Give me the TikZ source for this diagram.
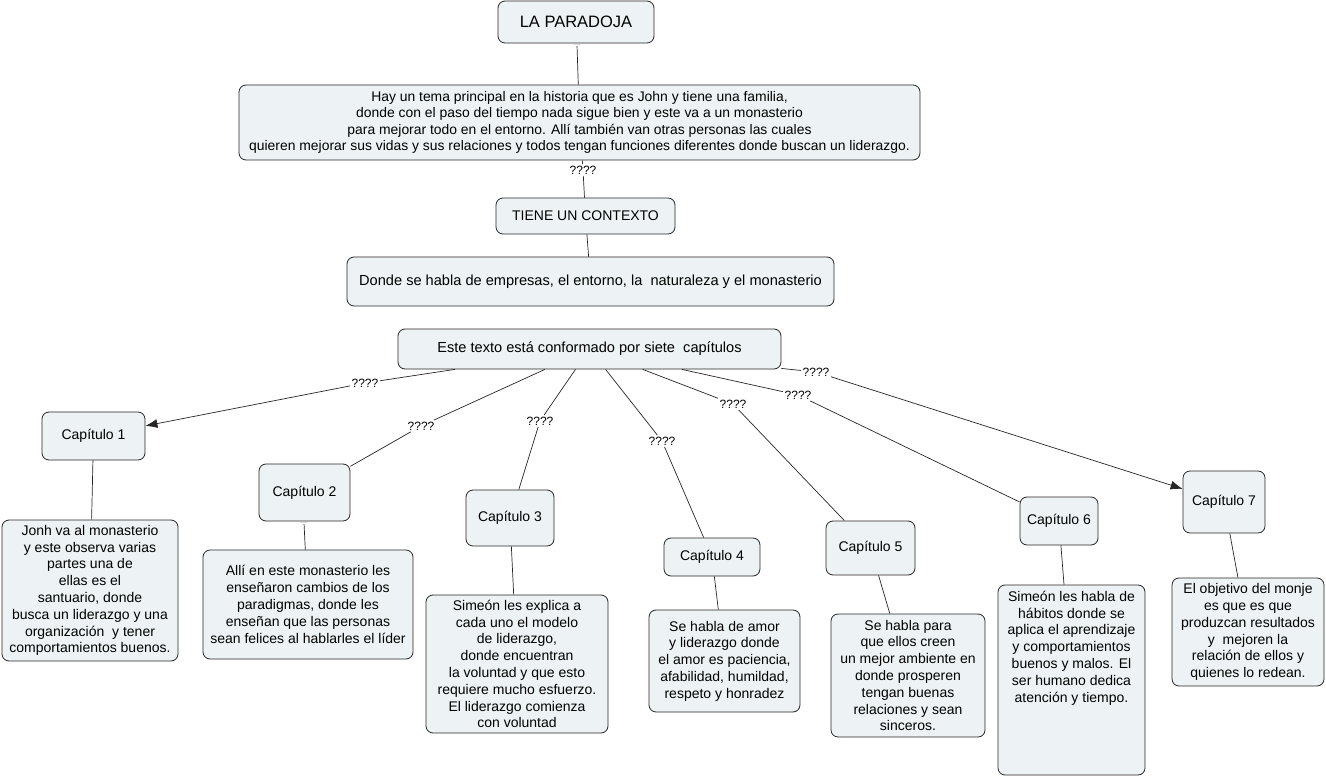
\documentclass[tikz,border=0pt]{standalone}
\usepackage{fontspec}
\setmainfont{Liberation Sans}
\usetikzlibrary{arrows.meta}
\definecolor{cajafondo}{HTML}{EDF3F5}
\definecolor{cajaborde}{HTML}{262626}
\begin{document}
\begin{tikzpicture}[x=1pt,y=-1pt]
        \tikzstyle{every node}+=[inner sep=0pt]
        \tikzstyle{caja}=[draw=cajaborde, fill=cajafondo, rounded corners=7pt, align=center, line width=0.8pt, font=\fontsize{14}{16.8}\selectfont]
        \tikzstyle{enlace}=[inner sep=1.5pt, font=\fontsize{12}{14}\selectfont]
        \tikzstyle{puntos}=[inner sep=0.5pt, text=gray, font=\fontsize{7}{7}\selectfont]
        \tikzstyle{linea}=[draw=cajaborde, line width=0.7pt]
        \tikzstyle{flecha}=[linea, -{Latex[length=12pt,width=9pt]}]
        \useasboundingbox (0,0) rectangle (1326,778);
        \node [caja, minimum width=156, minimum height=42, font=\fontsize{16.5}{18}\selectfont] (paradoja) at (576,22) {LA PARADOJA};
        \node [caja, minimum width=681, minimum height=75, font=\fontsize{13.9}{16.4}\selectfont] (historia) at (579.5,122.5) {Hay un tema principal en la historia que es John y tiene una familia,\\donde con el paso del tiempo nada sigue bien y este va a un monasterio\\para mejorar todo en el entorno. Allí también van otras personas las cuales\\quieren mejorar sus vidas y sus relaciones y todos tengan funciones diferentes donde buscan un liderazgo.};
        \node [caja, minimum width=179, minimum height=36] (contexto) at (585.5,216) {TIENE UN CONTEXTO};
        \node [caja, minimum width=487, minimum height=49, font=\fontsize{14.6}{17}\selectfont] (donde) at (590.5,281.5) {Donde se habla de empresas, el entorno, la~ naturaleza y el monasterio};
        \node [caja, minimum width=383, minimum height=40, font=\fontsize{14.6}{17}\selectfont] (siete) at (589.5,349) {Este texto está conformado por siete~ capítulos};
        \node [caja, minimum width=103, minimum height=48] (cap1) at (93.5,436) {Capítulo 1};
        \node [caja, minimum width=91, minimum height=57] (cap2) at (304.5,492.5) {Capítulo 2};
        \node [caja, minimum width=88, minimum height=56] (cap3) at (510,518) {Capítulo 3};
        \node [caja, minimum width=96, minimum height=38] (cap4) at (712,557) {Capítulo 4};
        \node [caja, minimum width=89, minimum height=54] (cap5) at (870.5,548) {Capítulo 5};
        \node [caja, minimum width=78, minimum height=48] (cap6) at (1059,521) {Capítulo 6};
        \node [caja, minimum width=82, minimum height=62] (cap7) at (1224,502) {Capítulo 7};
        \node [caja, minimum width=176, minimum height=141] (texto1) at (90,590.5) {Jonh va al monasterio\\y este observa varias\\partes una de\\ellas es el\\santuario, donde\\busca un liderazgo y una\\organización~ y tener\\comportamientos buenos.};
        \node [caja, minimum width=210, minimum height=109] (texto2) at (308,604.5) {Allí en este monasterio les\\enseñaron cambios de los\\paradigmas, donde les\\enseñan que las personas\\sean felices al hablarles el líder};
        \node [caja, minimum width=182, minimum height=138] (texto3) at (517,664) {Simeón les explica a\\cada uno el modelo\\de liderazgo,\\donde encuentran\\la voluntad y que esto\\requiere mucho esfuerzo.\\El liderazgo comienza\\con voluntad};
        \node [caja, minimum width=151, minimum height=102] (texto4) at (724.5,661) {Se habla de amor\\y liderazgo donde\\el amor es paciencia,\\afabilidad, humildad,\\respeto y honradez};
        \node [caja, minimum width=154, minimum height=123] (texto5) at (908,675.5) {Se habla para\\que ellos creen\\un mejor ambiente en\\donde prosperen\\tengan buenas\\relaciones y sean\\sinceros.};
        \node [caja, minimum width=147, minimum height=190] (texto6) at (1071.5,680) {\parbox[t][178pt][t]{145pt}{\centering Simeón les habla de\\hábitos donde se\\aplica el aprendizaje\\y comportamientos\\buenos y malos. El\\ser humano dedica\\atención y tiempo.}};
        \node [caja, minimum width=152, minimum height=108] (texto7) at (1248,632) {El objetivo del monje\\es que es que\\produzcan resultados\\y~ mejoren la\\relación de ellos y\\quienes lo redean.};
        \node [puntos] (p0) at (577,45) {....};
        \node [puntos] (p2) at (304,523) {....};
        \node [enlace] (e0) at (583,170) {????};
        \node [enlace] (e1) at (365,383) {????};
        \node [enlace] (e2) at (421,426) {????};
        \node [enlace] (e3) at (540,421) {????};
        \node [enlace] (e4) at (662,441) {????};
        \node [enlace] (e5) at (733,404) {????};
        \node [enlace] (e6) at (798,395) {????};
        \node [enlace] (e7) at (816,372) {????};
        \draw [linea] (p0) -- (historia);
        \draw [linea] (historia) -- (e0);
        \draw [linea] (e0) -- (contexto);
        \draw [linea] (contexto) -- (donde);
        \draw [linea] (siete) -- (e1);
        \draw [flecha] (e1) -- (cap1);
        \draw [linea] (siete) -- (e2);
        \draw [linea] (e2) -- (cap2);
        \draw [linea] (siete) -- (e3);
        \draw [linea] (e3) -- (cap3);
        \draw [linea] (siete) -- (e4);
        \draw [linea] (e4) -- (cap4);
        \draw [linea] (siete) -- (e5);
        \draw [linea] (e5) -- (cap5);
        \draw [linea] (siete) -- (e6);
        \draw [linea] (e6) -- (cap6);
        \draw [linea] (siete) -- (e7);
        \draw [flecha] (e7) -- (cap7);
        \draw [linea] (cap1) -- (texto1);
        \draw [linea] (p2) -- (texto2);
        \draw [linea] (cap3) -- (texto3);
        \draw [linea] (cap4) -- (texto4);
        \draw [linea] (cap5) -- (texto5);
        \draw [linea] (cap6) -- (texto6);
        \draw [linea] (cap7) -- (texto7);
\end{tikzpicture}
\end{document}
